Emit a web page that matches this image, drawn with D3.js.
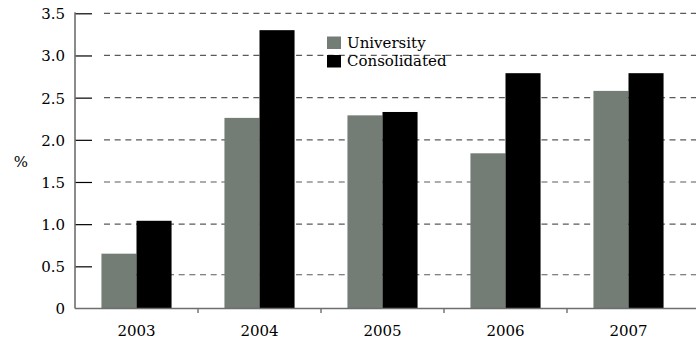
<!DOCTYPE html>
<html>
<head>
<meta charset="utf-8">
<script src="https://cdn.jsdelivr.net/npm/d3@7"></script>
<style>
  html, body { margin: 0; padding: 0; background: #fff; }
  svg { display: block; }
  text { font-family: "DejaVu Serif", serif; fill: #000; }
</style>
</head>
<body>
<svg id="chart" width="696" height="347"></svg>
<script>
// Annual rates (%) for the university and the consolidated group
const years = ["2003", "2004", "2005", "2006", "2007"];
const university = [0.65, 2.26, 2.29, 1.84, 2.58];
const consolidated = [1.04, 3.30, 2.33, 2.79, 2.79];
const seriesNames = ["University", "Consolidated"];
const seriesColors = ["#737d75", "#000000"];
const yTicks = [0, 0.5, 1.0, 1.5, 2.0, 2.5, 3.0, 3.5];
const gridLevels = [0.4, 1.0, 1.5, 2.0, 2.5, 3.0, 3.5];

const FONT = "'DejaVu Serif', serif";
const FS = "15px";
const svg = d3.select("#chart");
const W = 696;
const plotLeft = 75, plotBottom = 308.5, plotTop = 13.3;

const x = d3.scaleBand().domain(years).range([plotLeft, 690]).paddingInner(0).paddingOuter(0);
const y = d3.scaleLinear().domain([0, 3.5]).range([plotBottom, plotTop]);

// dashed horizontal guides
svg.append("g").selectAll("line").data(gridLevels).join("line")
  .attr("x1", 104).attr("x2", W)
  .attr("y1", d => y(d)).attr("y2", d => y(d))
  .attr("stroke", "#5a5a5a").attr("stroke-width", 1.2)
  .attr("stroke-dasharray", "6,4.67");

// grouped bars
const barW = x.bandwidth() * 0.285;
const rows = years.map((yr, i) => ({ yr, vals: [university[i], consolidated[i]] }));
const groups = svg.append("g").selectAll("g").data(rows).join("g")
  .attr("transform", d => `translate(${x(d.yr) + x.bandwidth() / 2 - barW},0)`);
groups.selectAll("rect").data(d => d.vals).join("rect")
  .attr("x", (d, j) => j * barW)
  .attr("width", barW)
  .attr("y", d => y(d))
  .attr("height", d => y(0) - y(d))
  .attr("fill", (d, j) => seriesColors[j]);

// y axis
const yAxis = svg.append("g").attr("transform", `translate(${plotLeft},0)`)
  .call(d3.axisRight(y).tickValues(yTicks).tickSize(17)
    .tickFormat(d => d === 0 ? "0" : d3.format(".1f")(d)));
yAxis.attr("font-family", null).attr("font-size", null);
yAxis.select(".domain").remove();
yAxis.selectAll(".tick line").attr("stroke", "#000").attr("stroke-width", 1.2)
  .filter(d => d === 0).remove();
yAxis.selectAll(".tick text")
  .attr("x", -10).attr("dy", "0.36em")
  .attr("text-anchor", "end")
  .style("font-size", FS).style("font-family", FONT);
svg.append("line")
  .attr("x1", plotLeft).attr("x2", plotLeft).attr("y1", plotTop - 1).attr("y2", plotBottom)
  .attr("stroke", "#6e6e6e").attr("stroke-width", 1.6);

// x axis
const xAxis = svg.append("g").attr("transform", `translate(0,${plotBottom})`)
  .call(d3.axisBottom(x).tickSize(0).tickPadding(17));
xAxis.attr("font-family", null).attr("font-size", null);
xAxis.select(".domain").remove();
xAxis.selectAll(".tick text")
  .style("font-size", FS).style("font-family", FONT);
svg.append("line")
  .attr("x1", plotLeft).attr("x2", W).attr("y1", plotBottom).attr("y2", plotBottom)
  .attr("stroke", "#6e6e6e").attr("stroke-width", 1.6);
svg.append("g").selectAll("line").data(years.slice(1)).join("line")
  .attr("x1", d => x(d)).attr("x2", d => x(d))
  .attr("y1", plotBottom).attr("y2", plotBottom + 4.5)
  .attr("stroke", "#6e6e6e").attr("stroke-width", 1.4);

// axis title
svg.append("text").attr("x", 21).attr("y", 167)
  .attr("text-anchor", "middle")
  .style("font-size", FS).style("font-family", FONT).text("%");

// legend
const legend = svg.append("g").attr("transform", "translate(327,36.5)");
const items = legend.selectAll("g").data(seriesNames).join("g")
  .attr("transform", (d, i) => `translate(0,${i * 18.5})`);
items.append("rect").attr("width", 14).attr("height", 12.5)
  .attr("fill", (d, i) => seriesColors[i]);
items.append("text").attr("x", 20).attr("y", 11)
  .style("font-size", FS).style("font-family", FONT).text(d => d);
</script>
</body>
</html>
